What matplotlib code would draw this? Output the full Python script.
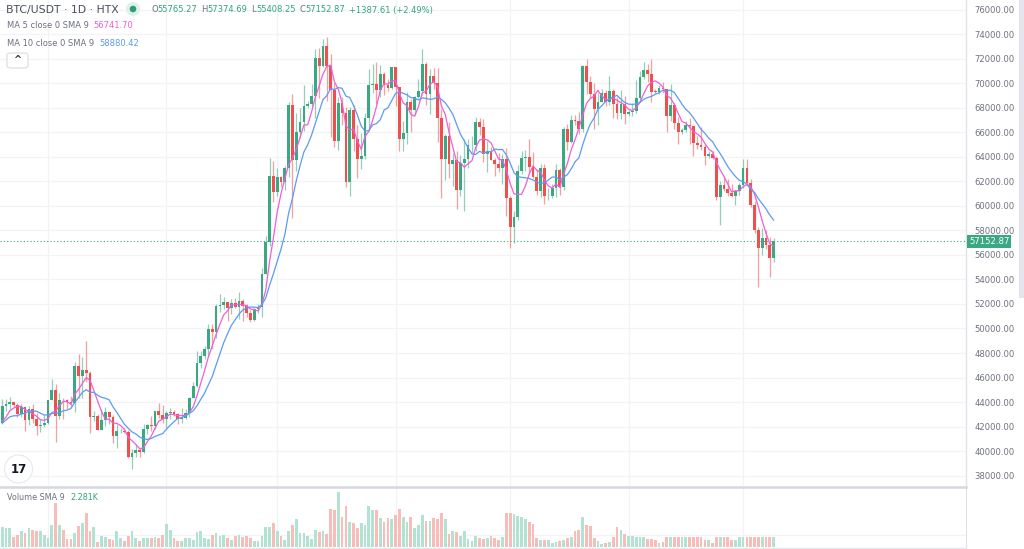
import numpy as np
import pandas as pd
import matplotlib
matplotlib.use("Agg")
import matplotlib.pyplot as plt
from matplotlib.patches import Rectangle, FancyBboxPatch, Ellipse

# BTC/USDT daily candles (HTX), 20 Dec 2023 -> 9 Jul 2024, prices in thousands
opens = [
    42.27, 43.65, 43.86, 43.99, 43.73, 43.01, 43.58, 42.52, 43.44, 42.58, 42.07, 42.14,
    42.28, 44.18, 44.95, 42.85, 44.18, 44.16, 43.97, 43.93, 46.97, 46.11, 46.63, 46.34, 42.78, 42.84, 41.73, 42.51,
    43.15, 42.74, 41.26, 41.62, 41.67, 41.54, 39.51, 39.85, 40.08, 39.93, 41.82, 42.12, 42.03, 43.30, 42.94,
    42.58, 43.08, 43.19, 43.00, 42.58, 42.66, 43.09, 44.34, 45.29, 47.15, 47.77, 48.29, 49.96, 49.70, 51.80,
    51.94, 52.13, 51.66, 52.12, 51.78, 52.28, 51.84, 51.30, 50.73, 51.57, 51.73, 54.48, 57.04, 62.43,
    61.13, 62.39, 61.99, 63.11, 68.25, 63.72, 66.04, 66.85, 68.19, 68.34, 68.95, 72.07, 71.45, 73.07, 71.39,
    69.50, 65.30, 68.39, 67.61, 61.94, 67.84, 65.50, 63.80, 64.06, 67.21, 69.88, 69.99, 69.45, 70.74, 69.89, 69.64,
    71.33, 69.70, 65.46, 65.96, 68.49, 67.84, 68.90, 69.36, 71.62, 69.15, 70.64, 70.01, 67.19, 63.84, 65.74,
    63.42, 63.79, 61.28, 63.47, 63.82, 64.94, 64.94, 66.84, 66.41, 64.28, 64.50, 63.77, 63.46, 63.12, 63.84,
    60.64, 58.25, 59.12, 62.89, 63.89, 64.03, 63.16, 62.33, 61.19, 63.07, 60.79, 60.82, 61.45, 62.90, 61.55,
    66.27, 65.23, 67.05, 66.94, 66.27, 71.45, 70.14, 69.12, 67.93, 68.53, 69.26, 68.50, 69.39, 68.36, 67.63, 68.36,
    67.49, 67.71, 67.75, 68.80, 70.57, 71.08, 70.76, 69.34, 69.31, 69.65, 69.51, 67.32, 68.24, 66.76, 66.01,
    66.19, 66.64, 66.49, 65.14, 64.96, 64.83, 64.10, 64.25,
    63.95, 60.76, 61.71, 61.40, 61.05, 60.85, 61.20, 61.70,
    63.10, 61.90, 60.10, 58.00, 56.60, 57.40, 56.80, 55.765,
]
highs = [
    44.28, 44.24, 44.40, 44.00, 43.95, 43.80, 43.60, 43.68, 43.80, 43.12, 42.60, 42.90,
    44.18, 45.88, 45.50, 44.73, 44.34, 44.23, 44.50, 47.25, 47.89, 47.70, 48.97, 46.50, 43.26, 43.06, 43.40, 43.58,
    43.20, 42.93, 42.20, 41.88, 41.88, 41.68, 40.13, 40.56, 40.29, 42.23, 42.20, 42.84, 43.30, 43.88, 43.74,
    43.29, 43.48, 43.38, 43.12, 43.53, 43.40, 44.38, 45.61, 48.20, 48.17, 48.59, 50.33, 50.37, 52.04, 52.82,
    52.57, 52.20, 52.37, 52.48, 52.98, 52.37, 52.00, 51.54, 51.68, 51.96, 54.94, 57.59, 63.91, 63.65,
    63.11, 62.43, 63.23, 68.50, 69.17, 67.60, 67.99, 69.90, 68.60, 69.98, 72.80, 72.90, 73.64, 73.78, 72.42,
    70.04, 68.90, 68.92, 68.12, 68.10, 68.24, 66.65, 65.98, 67.62, 71.15, 71.56, 71.77, 71.54, 70.92, 70.35, 71.37,
    71.34, 69.70, 66.90, 69.29, 68.72, 69.00, 70.33, 72.80, 71.76, 71.17, 71.26, 71.23, 67.93, 65.84, 66.87,
    64.36, 64.49, 64.13, 65.45, 65.44, 65.70, 67.23, 67.20, 67.08, 65.28, 64.80, 63.92, 64.36, 64.23, 64.73,
    60.78, 59.60, 63.32, 64.50, 64.60, 65.50, 64.42, 63.02, 63.42, 63.45, 61.49, 61.82, 63.45, 63.10, 66.44,
    66.70, 67.45, 67.40, 67.69, 71.52, 71.98, 70.62, 70.05, 69.25, 69.58, 69.50, 70.62, 69.54, 68.90, 69.50, 69.00,
    67.86, 68.40, 70.28, 71.06, 71.76, 71.63, 71.99, 69.56, 69.85, 70.15, 69.56, 69.99, 68.44, 67.30, 66.40,
    66.93, 67.19, 66.56, 65.73, 66.48, 65.07, 64.52, 64.49,
    64.10, 62.00, 62.40, 62.20, 61.80, 61.30, 61.90, 63.80,
    63.80, 62.20, 60.40, 58.30, 58.20, 58.00, 57.50, 57.37469,
]
lows = [
    42.20, 43.28, 43.40, 43.58, 42.80, 42.75, 41.63, 42.10, 42.30, 41.30, 41.52, 41.97,
    42.18, 44.15, 40.75, 42.62, 42.63, 43.42, 43.56, 43.18, 44.30, 44.35, 45.60, 41.50, 42.44, 41.72, 41.72, 42.05,
    42.20, 40.68, 40.28, 41.45, 41.50, 39.43, 38.50, 39.48, 39.50, 39.82, 41.40, 41.62, 41.80, 42.68, 42.27,
    41.88, 42.58, 42.88, 42.22, 42.26, 42.58, 42.79, 44.33, 45.24, 46.80, 47.54, 47.71, 48.30, 49.25, 51.33,
    51.57, 50.62, 51.16, 51.68, 50.76, 50.62, 50.92, 50.53, 50.58, 51.28, 50.90, 54.45, 56.70, 60.36,
    60.78, 61.56, 61.30, 62.34, 59.00, 62.83, 65.53, 66.10, 67.97, 68.10, 67.19, 68.85, 71.33, 68.55, 65.60,
    64.78, 64.55, 66.60, 61.55, 60.78, 64.53, 62.26, 63.00, 63.80, 66.38, 69.21, 68.36, 68.90, 69.08, 69.35, 69.56,
    68.15, 64.50, 64.49, 65.07, 66.01, 67.45, 68.85, 69.04, 68.21, 67.52, 69.57, 65.25, 60.66, 62.13, 62.30,
    61.62, 59.77, 60.80, 59.60, 63.12, 64.30, 64.50, 65.80, 63.60, 62.78, 63.78, 62.42, 62.80, 61.80, 59.19,
    56.55, 56.94, 58.85, 62.58, 62.82, 62.70, 62.25, 60.87, 60.75, 60.19, 60.49, 60.63, 60.75, 60.88, 61.33,
    64.60, 65.12, 66.60, 65.85, 66.06, 69.16, 68.85, 66.30, 66.60, 68.52, 68.15, 68.24, 67.20, 67.10, 67.12, 66.67,
    67.38, 67.32, 67.61, 68.50, 70.38, 70.12, 68.50, 69.21, 69.13, 69.23, 66.05, 66.90, 66.30, 65.08, 65.87,
    66.00, 65.06, 64.06, 64.69, 64.56, 63.38, 63.94, 63.80,
    60.50, 58.45, 61.20, 60.80, 60.70, 60.05, 60.90, 61.50,
    61.80, 59.90, 57.80, 53.40, 56.00, 56.50, 54.20, 55.40825,
]
closes = [
    43.65, 43.86, 43.99, 43.73, 43.01, 43.58, 42.52, 43.44, 42.58, 42.07, 42.14, 42.28,
    44.18, 44.95, 42.85, 44.18, 44.16, 43.97, 43.93, 46.97, 46.11, 46.63, 46.34, 42.78, 42.84, 41.73, 42.51, 43.15,
    42.74, 41.26, 41.62, 41.67, 41.54, 39.51, 39.85, 40.08, 39.93, 41.82, 42.12, 42.03, 43.30, 42.94, 42.58,
    43.08, 43.19, 43.00, 42.58, 42.66, 43.09, 44.34, 45.29, 47.15, 47.77, 48.29, 49.96, 49.70, 51.80, 51.94,
    52.13, 51.66, 52.12, 51.78, 52.28, 51.84, 51.30, 50.73, 51.57, 51.73, 54.48, 57.04, 62.43, 61.13,
    62.39, 61.99, 63.11, 68.25, 63.72, 66.04, 66.85, 68.19, 68.34, 68.95, 72.07, 71.45, 73.07, 71.39, 69.50,
    65.30, 68.39, 67.61, 61.94, 67.84, 65.50, 63.80, 64.06, 67.21, 69.88, 69.99, 69.45, 70.74, 69.89, 69.64, 71.33,
    69.70, 65.46, 65.96, 68.49, 67.84, 68.90, 69.36, 71.62, 69.15, 70.64, 70.01, 67.19, 63.84, 65.74, 63.42,
    63.79, 61.28, 63.47, 63.82, 64.94, 64.94, 66.84, 66.41, 64.28, 64.50, 63.77, 63.46, 63.12, 63.84, 60.64,
    58.25, 59.12, 62.89, 63.89, 64.03, 63.16, 62.33, 61.19, 63.07, 60.79, 60.82, 61.45, 62.90, 61.55, 66.27,
    65.23, 67.05, 66.94, 66.27, 71.45, 70.14, 69.12, 67.93, 68.53, 69.26, 68.50, 69.39, 68.36, 67.63, 68.36, 67.49,
    67.71, 67.75, 68.80, 70.57, 71.08, 70.76, 69.34, 69.31, 69.65, 69.51, 67.32, 68.24, 66.76, 66.01, 66.19,
    66.64, 66.49, 65.14, 64.96, 64.83, 64.10, 64.25, 63.95,
    60.76, 61.71, 61.40, 61.05, 60.85, 61.20, 61.70, 63.10,
    61.90, 60.10, 58.00, 56.60, 57.40, 56.80, 55.77, 57.15287,
]
# closes of the 10 days before the first visible candle (only feed the moving averages)
prior_closes = [43.79, 41.24, 41.45, 42.89, 43.02, 41.94, 42.28, 41.37, 42.66, 42.27]

# volume, thousands
volumes = [
    3.8, 3.6, 3.6, 1.8, 2.2, 3.0, 2.6, 3.6, 3.3, 3.0, 3.1, 2.3, 1.7, 4.2, 8.3, 4.2, 3.3, 1.6, 1.6, 2.6,
    4.0, 4.5, 6.5, 3.0, 3.8, 0.9, 2.0, 1.8, 1.5, 1.4, 3.0, 1.7, 1.1, 2.0, 3.0, 1.7, 1.1, 1.7, 1.7, 1.7,
    1.8, 1.7, 2.2, 4.3, 3.3, 1.7, 1.2, 1.2, 1.7, 1.7, 1.4, 2.8, 3.1, 1.7, 1.6, 2.3, 2.6, 2.0, 2.3, 1.7,
    1.4, 2.0, 2.2, 1.8, 2.0, 1.7, 1.2, 1.2, 2.0, 3.8, 3.8, 4.5, 3.1, 2.0, 1.4, 3.1, 4.1, 5.3, 2.6, 2.6,
    2.0, 1.6, 3.3, 2.8, 3.0, 2.5, 7.2, 6.9, 10.3, 5.7, 7.8, 4.8, 4.5, 3.6, 4.5, 4.2, 7.8, 7.0, 7.0, 5.5,
    4.7, 5.5, 5.2, 6.0, 7.2, 5.6, 4.8, 5.6, 3.6, 4.1, 6.0, 5.0, 5.0, 5.5, 5.3, 6.5, 5.2, 2.5, 3.0, 2.8,
    2.1, 3.1, 1.5, 1.1, 2.0, 1.7, 1.5, 1.7, 2.0, 1.7, 1.4, 1.8, 6.4, 6.4, 6.2, 5.9, 5.6, 5.2, 4.8, 4.3,
    1.7, 1.4, 1.3, 1.4, 0.8, 0.9, 1.2, 1.4, 1.7, 1.8, 3.1, 3.3, 5.6, 4.2, 3.9, 1.7, 1.1,
    0.5, 0.7, 0.9, 1.9, 3.8, 3.2, 2.5, 2.1, 2.1, 1.9, 1.9, 1.8, 1.6, 1.6, 1.3, 0.8, 0.9, 1.8, 1.8, 1.8,
    1.8, 1.8, 1.8, 1.8, 1.8, 1.8, 1.8, 1.4, 1.4, 0.8, 1.8, 1.8, 1.8, 1.8, 1.4, 1.4, 1.8, 1.8, 1.8, 1.8,
    1.8, 1.8, 1.8, 1.8, 1.8, 1.8,
]
# first candle of each month (Jan .. Jul)
month_starts = [12, 43, 72, 103, 133, 164, 194]
price_ticks = list(range(38000, 78000, 2000))
last_price = 57152.87

UP, DOWN = "#3aa883", "#ee5050"
VUP, VDOWN = "#b2e3d2", "#f8bcb9"
MA5_C, MA10_C = "#ee5fd9", "#5c9bf2"
GRID = "#f2f3f5"

o = np.array(opens) * 1000
h = np.array(highs) * 1000
l = np.array(lows) * 1000
c = np.array(closes) * 1000
idx = np.arange(len(c))
up = c >= o

allc = pd.Series(prior_closes + closes) * 1000
ma5 = allc.rolling(5).mean().values[len(prior_closes):]
ma10 = allc.rolling(10).mean().values[len(prior_closes):]

W, H = 1024, 549
fig = plt.figure(figsize=(W / 100, H / 100), dpi=100)
fig.patch.set_facecolor("white")


def fx(px):
    return px / W


def fy(py):
    return 1 - py / H


def dot(xc, yc, r, **kw):
    # round disc in figure pixels
    fig.add_artist(Ellipse((fx(xc), fy(yc)), 2 * r / W, 2 * r / H, transform=fig.transFigure, **kw))


ax = fig.add_axes([0, fy(486), fx(966), 486 / H])
axv = fig.add_axes([0, fy(547), fx(966), 59 / H])
step = 3.819
xlim = (-2.2 / step, (966 - 2.2) / step)

# price panel
ax.set_xlim(*xlim)
ax.set_ylim(37143, 76816)
for m in month_starts:
    ax.axvline(m, color=GRID, lw=0.9, zorder=0)
ax.set_yticks(price_ticks)
ax.yaxis.tick_right()
ax.set_yticklabels([f"{t:.2f}" for t in price_ticks])
ax.tick_params(axis="y", length=0, pad=6, labelsize=6.1, labelcolor="#6f7280")
ax.set_xticks([])
ax.grid(axis="y", color=GRID, lw=0.9, zorder=0)
for s in ["top", "left", "bottom"]:
    ax.spines[s].set_visible(False)
ax.spines["right"].set_color("#dfe2e8")
ax.spines["right"].set_linewidth(1.0)

cols = np.where(up, UP, DOWN)
ax.vlines(idx, l, h, colors=cols, lw=0.9, alpha=0.55, zorder=2)
body_h = np.maximum(np.abs(c - o), 40)
ax.bar(idx, body_h, bottom=np.minimum(o, c), width=0.72, color=cols, lw=0, zorder=3)

ax.plot(idx, ma5, color=MA5_C, lw=0.9, zorder=4)
ax.plot(idx, ma10, color=MA10_C, lw=0.9, zorder=4)
ax.axhline(last_price, color="#3aa883", lw=0.8, ls=(0, (1, 2)), zorder=1)

# volume panel
axv.set_xlim(*xlim)
axv.set_ylim(0, 59 / 5.3)
for m in month_starts:
    axv.axvline(m, color=GRID, lw=0.9, zorder=0)
axv.axhline(59 / 5.3 * 0.2, color=GRID, lw=0.9, zorder=0)
axv.bar(idx, volumes, width=0.72, color=np.where(up, VUP, VDOWN), lw=0, zorder=2)
axv.set_xticks([])
axv.set_yticks([])
for s in ["top", "left", "bottom"]:
    axv.spines[s].set_visible(False)
axv.spines["right"].set_color("#dfe2e8")

# panel separator and scrollbar
fig.add_artist(plt.Line2D([0, fx(966)], [fy(486.5), fy(486.5)], color="#d5d8de", lw=1.8))
fig.add_artist(plt.Line2D([0, fx(966)], [fy(548), fy(548)], color="#e4e6ea", lw=1.0))
fig.add_artist(Rectangle((fx(1019), fy(298)), fx(5), 298 / H, color="#e3e5ea", lw=0))

renderer = fig.canvas.get_renderer()


def runs(x, y, parts, size):
    # place text pieces one after another, left to right
    for txt, col, gap in parts:
        t = fig.text(fx(x), fy(y), txt, fontsize=size, color=col, va="center", ha="left")
        bb = t.get_window_extent(renderer)
        x += bb.width + gap


GREEN_T = "#2fa57c"
GRAY_T = "#6d7080"
runs(6, 10, [("BTC/USDT · 1D · HTX", "#4b4f5c", 0)], 7.8)
dot(133, 9, 7, color="#dff1ea", lw=0)
dot(133, 9, 3.3, color="#2e9c74", lw=0)
runs(151, 10, [("O", GRAY_T, 0), ("55765.27", GREEN_T, 4), ("H", GRAY_T, 0), ("57374.69", GREEN_T, 4),
               ("L", GRAY_T, 0), ("55408.25", GREEN_T, 4), ("C", GRAY_T, 0), ("57152.87", GREEN_T, 4),
               ("+1387.61 (+2.49%)", GREEN_T, 0)], 6.0)
runs(7, 25, [("MA 5 close 0 SMA 9", GRAY_T, 5), ("56741.70", MA5_C, 0)], 6.0)
runs(7, 43, [("MA 10 close 0 SMA 9", GRAY_T, 5), ("58880.42", MA10_C, 0)], 6.0)
fig.add_artist(FancyBboxPatch((fx(7), fy(68)), fx(21), 15 / H, boxstyle="round,pad=0,rounding_size=0.004",
                              transform=fig.transFigure, facecolor="white", edgecolor="#d9dbe0", lw=0.8))
fig.text(fx(17.5), fy(60.5), "^", fontsize=7, color="#333", ha="center", va="center", fontweight="bold")
runs(7, 497, [("Volume SMA 9", GRAY_T, 6), ("2.281K", GREEN_T, 0)], 5.8)

# TradingView badge
dot(18.5, 469, 14, facecolor="white", edgecolor="#e6e8ec", lw=0.8)
fig.text(fx(18.5), fy(469.5), "17", fontsize=8.5, fontweight="bold", color="#131722", ha="center", va="center")

# last price tag
fig.text(fx(969), fy(241.5), f"{last_price:.2f}", fontsize=6.1, color="white", ha="left", va="center",
         bbox=dict(boxstyle="square,pad=0.25", facecolor="#3aa883", edgecolor="none"))

fig.savefig("out.png", dpi=100, facecolor="white")
